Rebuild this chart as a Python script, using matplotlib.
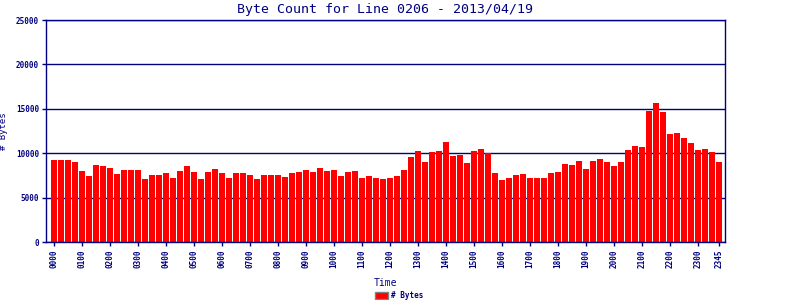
import matplotlib
matplotlib.use('Agg')
import matplotlib.pyplot as plt
import numpy as np

plt.rcParams['font.family'] = ['DejaVu Sans Mono']

NAVY = '#000080'

# byte counts per 15 minute interval, 0000 .. 2345
byte_counts = [
    9250, 9250, 9250, 9020, 8010, 7440, 8690, 8570, 8350, 7670, 8120, 8120,
    8120, 7110, 7560, 7560, 7780, 7220, 8010, 8570, 7900, 7110, 7900, 8230,
    7780, 7220, 7780, 7780, 7560, 7110, 7560, 7560, 7560, 7330, 7780, 7900,
    8120, 7900, 8350, 8010, 8120, 7440, 7900, 8010, 7220, 7440, 7220, 7110,
    7220, 7440, 8120, 9590, 10260, 9020, 10150, 10260, 11280, 9700, 9810, 8910,
    10260, 10490, 10000, 7780, 6990, 7220, 7560, 7670, 7220, 7220, 7220, 7780,
    7900, 8800, 8690, 9140, 8230, 9140, 9360, 9020, 8570, 9020, 10380, 10830,
    10720, 14780, 15680, 14660, 12180, 12300, 11730, 11170, 10380, 10490, 10150, 9020,
]
times = ['%02d%02d' % (i // 4, (i % 4) * 15) for i in range(96)]
tick_idx = list(range(0, 96, 4)) + [95]
tick_labels = [times[i] for i in tick_idx]

fig = plt.figure(figsize=(8, 3), dpi=100)
ax = fig.add_axes([0.0575, 0.193, 0.906 - 0.0575, 0.933 - 0.193])

x = np.arange(len(byte_counts))
ax.bar(x, byte_counts, width=6 / 7, color='#ff0000', label='# Bytes', zorder=3)

ax.set_xlim(-1.14, 95.86)
ax.set_ylim(0, 25000)
ax.set_yticks(range(0, 25001, 5000))
ax.set_yticklabels([str(v) for v in range(0, 25001, 5000)],
                   fontsize=5.5, fontweight='bold', color=NAVY)
ax.set_xticks(tick_idx)
ax.set_xticklabels(tick_labels, rotation=90, fontsize=5.5, fontweight='bold', color=NAVY)
ax.tick_params(axis='both', colors=NAVY, length=3, width=1, pad=2)

ax.yaxis.grid(True, color=NAVY, linewidth=1, zorder=1)
ax.set_axisbelow(True)
for s in ax.spines.values():
    s.set_color(NAVY)
    s.set_linewidth(1)
    s.set_zorder(4)

ax.set_title('Byte Count for Line 0206 - 2013/04/19', fontsize=9.5, color=NAVY, pad=5)
ax.set_xlabel('Time', fontsize=7, color=NAVY)
ax.xaxis.set_label_coords(0.5, -0.162)
ax.set_ylabel('# Bytes', fontsize=6.5, color=NAVY)
ax.yaxis.set_label_coords(-0.0567, 0.5)

leg = fig.legend(loc='center', bbox_to_anchor=(0.499, 0.015), frameon=False,
                 handlelength=1.6, handleheight=0.9, handletextpad=0.4,
                 prop={'weight': 'bold', 'size': 5.5})
for t in leg.get_texts():
    t.set_color(NAVY)
for h in leg.legend_handles:
    h.set_edgecolor('#808080')

fig.savefig('out.png', dpi=100)
